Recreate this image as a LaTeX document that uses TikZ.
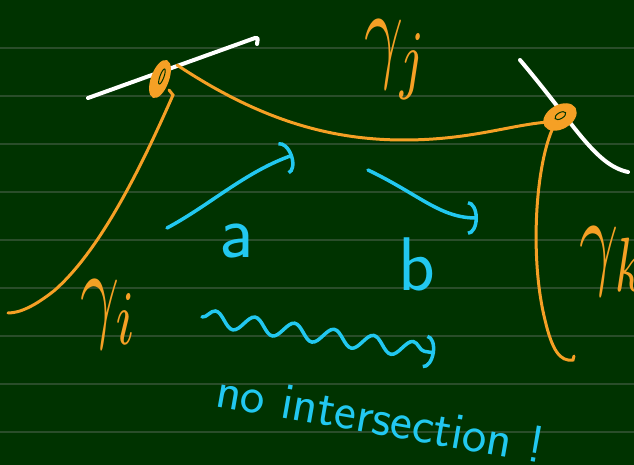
\documentclass[tikz,border=0pt]{standalone}
\usepackage{tikz}
\usetikzlibrary{arrows.meta,decorations.pathmorphing}
\definecolor{board}{HTML}{003300}
\definecolor{rule}{HTML}{2A4D2A}
\definecolor{chalkorange}{HTML}{F5A025}
\definecolor{chalkcyan}{HTML}{22C8F0}
\definecolor{chalkwhite}{HTML}{FFFFFF}
\newcommand{\glab}[1]{\scalebox{6.8}[11]{$\gamma_{#1}$}}
\tikzset{
  every node/.style={inner sep=0pt},
  % orange curves, white tangent lines, cyan vectors
  curve/.style={draw=chalkorange, line width=3pt, line cap=round},
  tangent/.style={draw=chalkwhite, line width=4pt, line cap=round},
  junction/.style={draw=chalkorange, fill=chalkorange, line width=2pt},
  vec/.style={draw=chalkcyan, line width=3.5pt, line cap=round,
              -{Arc Barb[length=10pt,width=34pt]}},
  glabel/.style={text=chalkorange},
  vlabel/.style={text=chalkcyan, font=\sffamily\fontsize{76}{76}\selectfont},
  note/.style={text=chalkcyan, font=\sffamily\fontsize{52}{52}\selectfont},
}

\begin{document}
\begin{tikzpicture}[x=1pt,y=-1pt]
  % board with ruled lines
  \fill[board] (0,0) rectangle (634,465);
  \useasboundingbox (0,0) rectangle (634,465);
  \clip (0,0) rectangle (634,465);
  \foreach \r in {1,...,9}{
    \draw[rule, line width=1.5pt] (0,\r*48) -- (634,\r*48);
  }

  % tangent lines
  \draw[tangent] (88,98) -- (255,38) .. controls (258,38) .. (257,44);
  \draw[tangent] (520,60) .. controls (575,125) and (595,165) .. (628,172);

  % curves gamma_i, gamma_j, gamma_k
  \draw[curve] (169,90) -- (173,95) .. controls (140,170) and (100,250) .. (55,290)
    .. controls (35,306) and (20,313) .. (8,313);
  \draw[curve] (177,65) .. controls (260,120) and (330,140) .. (404,140)
    .. controls (470,140) and (510,125) .. (548,122);
  \draw[curve] (552,130) .. controls (535,170) and (530,260) .. (545,320)
    .. controls (552,350) and (560,362) .. (573,360) -- (574,356);

  % junctions
  \filldraw[junction, rotate around={-20:(160,79)}] (160,79) ellipse (8 and 19);
  \draw[board, line width=1pt, rotate around={-20:(160,79)}] (161,76) ellipse (2 and 8);
  \filldraw[junction, rotate around={30:(560,117)}] (560,117) ellipse (17 and 11);
  \draw[board, line width=1pt, rotate around={30:(560,117)}] (561,116) ellipse (6 and 3);

  % labels of the curves
  \node[glabel] (gj) at (396,60) {\glab{j}};
  \node[glabel] (gi) at (109,315) {\glab{i}};
  \node[glabel] (gk) at (614,262) {\glab{k}};

  % vectors a and b
  \draw[vec] (167,228) .. controls (210,205) and (245,172) .. (293,155);
  \draw[vec] (368,170) .. controls (420,195) and (440,218) .. (478,218);
  \node[vlabel] (a) at (237,241) {a};
  \node[vlabel] (b) at (417,264) {b};

  % wavy arrow and note
  \draw[vec, decorate, decoration={snake, amplitude=8, segment length=40, post length=6pt}]
    (202,317) -- (435,353);
  \node[note, rotate=-10, anchor=base west] (msg) at (214,406) {no intersection !};
\end{tikzpicture}
\end{document}
